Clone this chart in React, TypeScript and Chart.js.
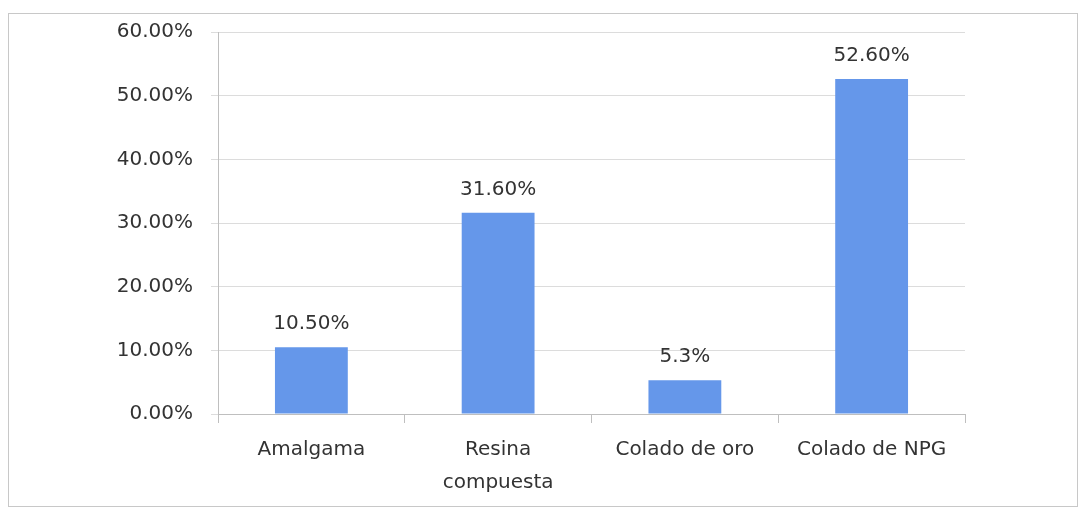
import React, { useEffect, useRef } from "react";
import { Chart, registerables } from "chart.js";

Chart.register(...registerables);

const categories: (string | string[])[] = ["Amalgama", ["Resina", "compuesta"], "Colado de oro", "Colado de NPG"];
const values: number[] = [10.5, 31.6, 5.3, 52.6];
const valueLabels: string[] = ["10.50%", "31.60%", "5.3%", "52.60%"];
const yTicks: number[] = [0, 10, 20, 30, 40, 50, 60];

const FONT = "'DejaVu Sans', sans-serif";
const TEXT = "#333333";

const dataLabelPlugin = {
  id: "dataLabels",
  afterDatasetsDraw(chart: any) {
    const ctx = chart.ctx;
    const meta = chart.getDatasetMeta(0);
    ctx.save();
    ctx.font = `20px ${FONT}`;
    ctx.fillStyle = TEXT;
    ctx.textAlign = "center";
    ctx.textBaseline = "alphabetic";
    meta.data.forEach((bar: any, i: number) => {
      ctx.fillText(valueLabels[i], bar.x, bar.y - 18);
    });
    ctx.restore();
  },
};

export default function App() {
  const ref = useRef<HTMLCanvasElement>(null);
  useEffect(() => {
    if (!ref.current) return;
    const chart = new Chart(ref.current, {
      type: "bar",
      data: {
        labels: categories,
        datasets: [
          {
            data: values,
            backgroundColor: "#6597ea",
            borderWidth: 0,
            barPercentage: 0.39,
            categoryPercentage: 1,
          },
        ],
      },
      options: {
        responsive: false,
        animation: false,
        maintainAspectRatio: false,
        layout: { padding: { top: 18, right: 112, left: 0, bottom: 0 } },
        plugins: { legend: { display: false }, tooltip: { enabled: false } },
        scales: {
          x: {
            offset: true,
            afterFit: (s: any) => {
              s.height = 92;
              s.paddingLeft = 0;
              s.paddingRight = 0;
            },
            grid: {
              offset: true,
              drawOnChartArea: false,
              drawTicks: true,
              tickLength: 9,
              color: "#bfbfbf",
            },
            border: { color: "#bfbfbf" },
            ticks: {
              color: TEXT,
              font: { family: FONT, size: 20, lineHeight: 1.65 },
              padding: 10,
              maxRotation: 0,
              autoSkip: false,
            },
          },
          y: {
            min: 0,
            max: 60,
            afterFit: (s: any) => {
              s.width = 209;
              s.paddingTop = 0;
              s.paddingBottom = 0;
            },
            afterBuildTicks: (s: any) => {
              s.ticks = yTicks.map((v) => ({ value: v }));
            },
            grid: { color: "#dcdcdc", tickLength: 7 },
            border: { color: "#bfbfbf" },
            ticks: {
              color: TEXT,
              font: { family: FONT, size: 20 },
              padding: 18,
              callback: (v: any) => Number(v).toFixed(2) + "%",
            },
          },
        },
      },
      plugins: [dataLabelPlugin],
    });
    return () => chart.destroy();
  }, []);
  return (
    <div style={{ paddingTop: 5 }}>
      <div style={{ width: 1068, height: 492, border: "1px solid #c8c8c8", background: "#fff" }}>
        <canvas ref={ref} width={1068} height={492} style={{ display: "block" }} />
      </div>
    </div>
  );
}
